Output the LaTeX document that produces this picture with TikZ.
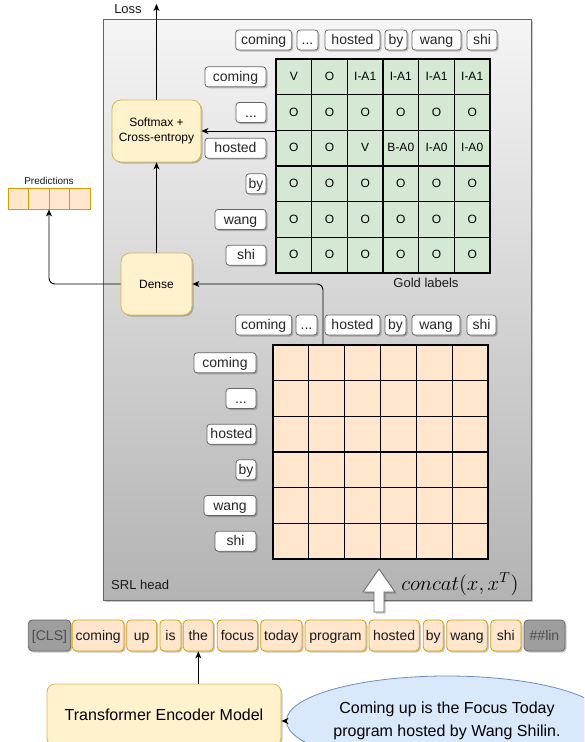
\documentclass[tikz,border=0pt]{standalone}
\usepackage{fontspec}
\setmainfont{Liberation Sans}
\usetikzlibrary{arrows.meta,shadows,shapes.geometric}
\definecolor{yfill}{HTML}{FFF2CC}
\definecolor{ydraw}{HTML}{D6B656}
\definecolor{ofill}{HTML}{FFE6CC}
\definecolor{odraw}{HTML}{D79B00}
\definecolor{gfill}{HTML}{D5E8D4}
\definecolor{bfill}{HTML}{DAE8FC}
\definecolor{bdraw}{HTML}{6C8EBF}
\definecolor{tdraw}{HTML}{666666}
\definecolor{grfill}{HTML}{9E9E9E}
\definecolor{grtext}{HTML}{4D4D4D}
\definecolor{srltop}{HTML}{F5F5F5}
\definecolor{srlbot}{HTML}{B3B3B3}
\newcommand{\bx}[7]{\node[#1, minimum width={(#4)-(#3)}, minimum height={(#6)-(#5)}] (#2) at ({((#3)+(#4))/2},{((#5)+(#6))/2}) {#7};}
\newcommand{\ddd}{...}
\begin{document}
\begin{tikzpicture}[x=1pt,y=-1pt,
  arr/.style={-{Stealth[length=7pt,width=6pt,inset=2pt]}, line width=0.9pt, black},
  shad/.style={drop shadow={shadow xshift=1.5pt, shadow yshift=-1.5pt, opacity=0.22, fill=black}},
  tokbase/.style={inner sep=0pt, font=\fontsize{14}{16}\selectfont, text height=12pt, text depth=3pt, shad, line width=0.8pt},
  tokw/.style={tokbase, draw=tdraw, fill=white, rounded corners=3pt, text=black!85},
  toko/.style={tokbase, draw=odraw, fill=ofill, rounded corners=4pt, text=black!90},
  tokg/.style={tokbase, draw=tdraw, fill=grfill, rounded corners=4pt, text=grtext},
  ybox/.style={draw=ydraw, fill=yfill, rounded corners=9pt, align=center, inner sep=0pt, font=\fontsize{12}{15}\selectfont, shad, line width=0.8pt},
  cell/.style={font=\fontsize{12}{14}\selectfont, inner sep=0pt, text height=10pt, text depth=2.5pt},
  lbl/.style={inner sep=0pt, text=black!90}
]
\useasboundingbox (0,0) rectangle (584,742);
\clip (0,0) rectangle (584,742);

% SRL head container
\node[draw=tdraw, top color=srltop, bottom color=srlbot, minimum width=428, minimum height=581, inner sep=0pt, shad, line width=0.8pt] (srl) at (317,309.5) {};
\node[lbl, anchor=west, font=\fontsize{13}{15}\selectfont] (srllbl) at (111,585) {SRL head};

% Gold grid
\node[draw=black, fill=gfill, minimum width=214, minimum height=214, inner sep=0pt, line width=1.1pt] (gold) at (383,166) {};
\foreach \i in {1,...,5} {
  \draw[line width=1.1pt] ({276+\i*214/6},59) -- ({276+\i*214/6},273);
  \draw[line width=1.1pt] (276,{59+\i*214/6}) -- (490,{59+\i*214/6});
}
\foreach [count=\r] \row in {{V,O,I-A1,I-A1,I-A1,I-A1},{O,O,O,O,O,O},{O,O,V,B-A0,I-A0,I-A0},{O,O,O,O,O,O},{O,O,O,O,O,O},{O,O,O,O,O,O}} {
  \foreach [count=\c] \v in \row {
    \node[cell] (g\r\c) at ({276+(\c-0.5)*214/6},{59+(\r-0.5)*214/6}) {\v};
  }
}
\node[lbl, font=\fontsize{13}{15}\selectfont] (goldlbl) at (426,283) {Gold labels};

% Gold header tokens
\foreach [count=\k] \a/\b/\t in {235.7/291.7/coming, 297/318/\ddd, 325/380/hosted, 385/407/by, 412/461/wang, 467/497/shi} {
  \bx{tokw}{gh\k}{\a}{\b}{30}{50}{\t}
}
% Gold row tokens
\foreach [count=\r] \a/\t in {205/coming, 236/\ddd, 205/hosted, 246/by, 215/wang, 226/shi} {
  \pgfmathsetmacro\yc{59+(\r-0.5)*214/6}
  \bx{tokw}{gr\r}{\a}{266}{\yc-10}{\yc+10}{\t}
}

% Orange grid
\node[draw=black, fill=ofill, minimum width=215, minimum height=214, inner sep=0pt, line width=1.1pt] (org) at (380.5,452) {};
\foreach \i in {1,...,5} {
  \draw[line width=1.1pt] ({273+\i*215/6},345) -- ({273+\i*215/6},559);
  \draw[line width=1.1pt] (273,{345+\i*214/6}) -- (488,{345+\i*214/6});
}
\foreach [count=\k] \a/\b/\t in {235.7/291.7/coming, 296/317/\ddd, 325/380/hosted, 385/406/by, 412/460/wang, 467/496/shi} {
  \bx{tokw}{oh\k}{\a}{\b}{315}{335}{\t}
}
\foreach [count=\r] \a/\t in {194/coming, 226/\ddd, 207/hosted, 236/by, 204/wang, 215/shi} {
  \pgfmathsetmacro\yc{345+(\r-0.5)*214/6}
  \bx{tokw}{or\r}{\a}{256}{\yc-10}{\yc+10}{\t}
}

% Softmax and Dense
\bx{ybox}{soft}{112}{201}{100}{162}{Softmax +\\Cross-entropy}
\bx{ybox}{dense}{121}{192}{253}{315}{Dense}

% Predictions
\node[lbl, font=\fontsize{10}{12}\selectfont] (predlbl) at (49,181) {Predictions};
\node[draw=odraw, fill=ofill, minimum width=82, minimum height=21, inner sep=0pt, line width=0.8pt] (pred) at (49,198.5) {};
\foreach \x in {28.5,49,69.5} { \draw[odraw, line width=0.8pt] (\x,188) -- (\x,209); }

% Loss
\coordinate (losstip) at (156.5,4);
\node[lbl, font=\fontsize{13}{15}\selectfont] (loss) at (128,9) {Loss};

% Connectors
\draw[arr] (soft.north) -- (losstip);
\draw[arr] (gold.west |- soft.east) -- (soft.east);
\draw[arr] (dense.north) -- (soft.south);
\draw[arr, rounded corners=6pt] ([xshift=-57.5pt]org.north) |- (dense.east);
\draw[arr, rounded corners=6pt] (dense.west) -| (pred.south);

% Block arrow
\draw[draw=tdraw, fill=white, line width=0.8pt, shad] (374,612) -- (374,592) -- (363,592) -- (379,569) -- (395,592) -- (384,592) -- (384,612) -- cycle;
\node[anchor=west, inner sep=0pt, scale=1.45, font=\fontsize{14}{16}\selectfont] (concat) at (401,584) {$concat(x,x^T)$};

% Bottom tokens
\bx{tokg}{t0}{28.3}{70.7}{620}{651}{[CLS]}
\foreach [count=\k] \a/\b/\t in {72.3/124/coming, 126.7/156.7/up, 160/181/is, 183.3/213.3/the, 217.3/257.7/focus, 260.7/302/today, 305/366/program, 369/419.3/hosted, 423.3/443.3/by, 446.7/487.3/wang, 490.7/521/shi} {
  \bx{toko}{t\k}{\a}{\b}{620}{651}{\t}
}
\bx{tokg}{t12}{524}{565}{620}{651}{\#\#lin}

% Transformer and sentence
\bx{ybox, rounded corners=8pt, font=\fontsize{16}{19}\selectfont}{trans}{47}{281}{684}{746}{Transformer Encoder Model}
\node[ellipse, draw=bdraw, fill=bfill, minimum width=282, minimum height=90, inner sep=0pt, align=center, font=\fontsize{16}{23.5}\selectfont, line width=0.8pt, shad] (sent) at (447,721) {Coming up is the Focus Today\\program hosted by Wang Shilin.};

\draw[arr] (trans.north -| t4.south) -- (t4.south);
\draw[arr] (sent.west) -- (sent.west -| trans.east);
\end{tikzpicture}
\end{document}
